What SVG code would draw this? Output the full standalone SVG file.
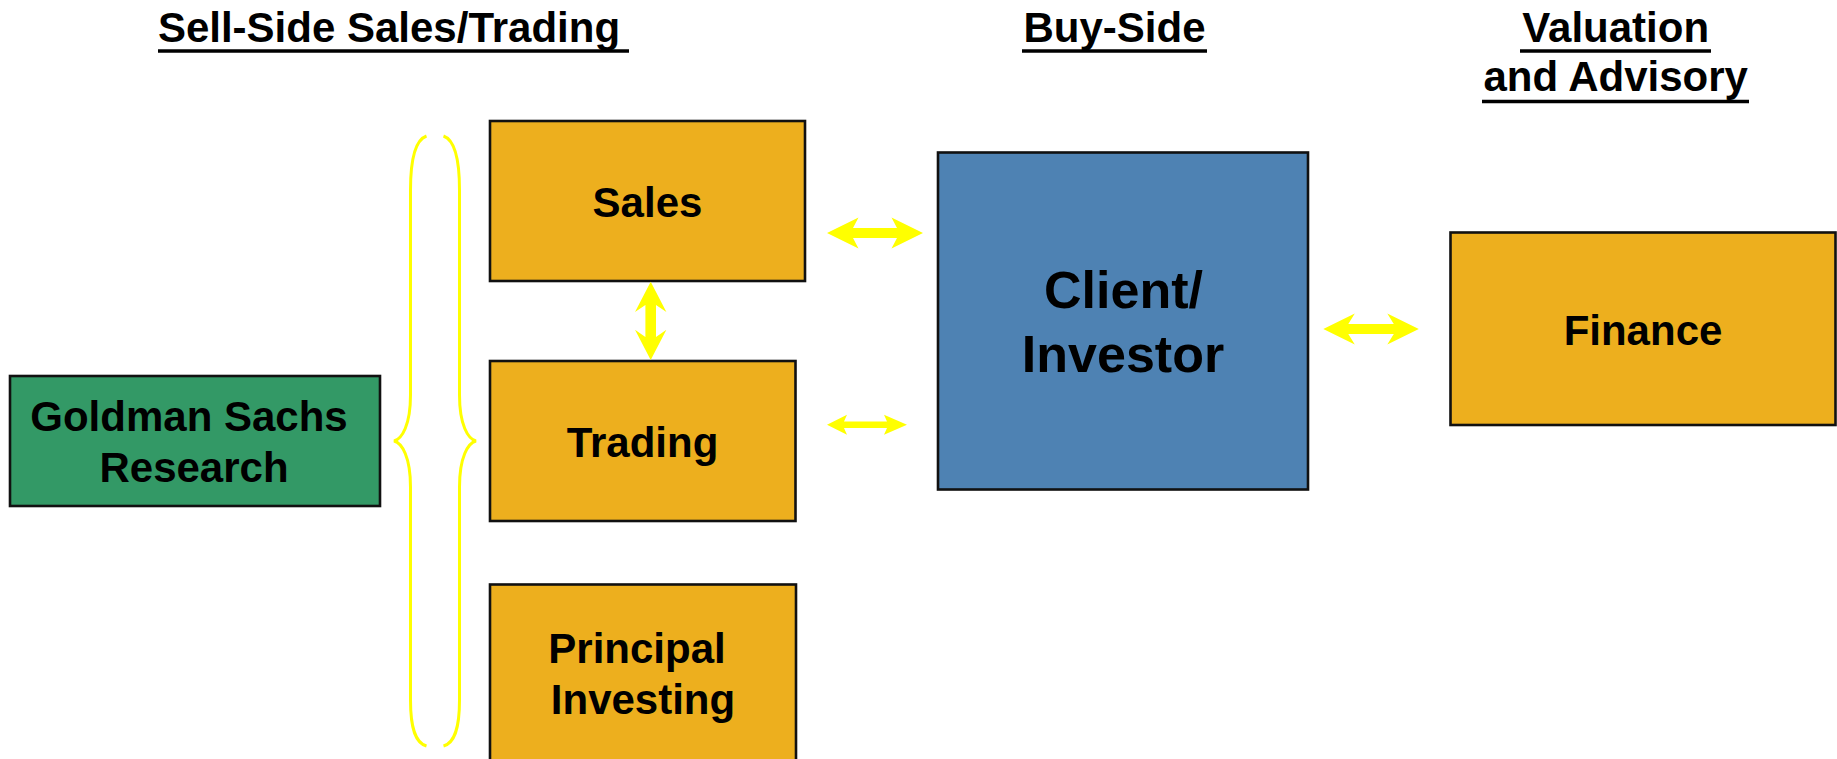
<svg xmlns="http://www.w3.org/2000/svg" width="1837" height="759" viewBox="0 0 1837 759">
  <style>
    text { font-family: "Liberation Sans", Arial, sans-serif; font-weight: bold; fill: #000; }
    .head { font-size: 42px; text-anchor: middle; }
    .lbl { font-size: 42px; text-anchor: middle; }
    .big { font-size: 52px; text-anchor: middle; }
    .uline { stroke: #000; stroke-width: 3.4; }
    .box { stroke: #111; stroke-width: 2.6; }
    .orange { fill: #EDAF1E; }
    .green { fill: #339966; }
    .blue { fill: #4E82B3; }
    .arrow { fill: #FFFF00; stroke: none; }
    .brace { fill: none; stroke: #FFFF00; stroke-width: 3; }
  </style>

  <rect width="1837" height="759" fill="#FFFFFF"/>

  <!-- column headings -->
  <g id="headings">
    <text class="head" x="389" y="42">Sell-Side Sales/Trading</text>
    <line class="uline" x1="158" y1="51" x2="629" y2="51"/>
    <text class="head" x="1114.5" y="42">Buy-Side</text>
    <line class="uline" x1="1022" y1="51" x2="1207" y2="51"/>
    <text class="head" x="1615.7" y="42">Valuation</text>
    <line class="uline" x1="1520" y1="51" x2="1711" y2="51"/>
    <text class="head" x="1615.7" y="91">and Advisory</text>
    <line class="uline" x1="1482" y1="101.5" x2="1749" y2="101.5"/>
  </g>

  <!-- nodes -->
  <g id="research">
    <rect class="box green" x="10" y="376" width="370" height="130"/>
    <text class="lbl" x="189" y="431">Goldman Sachs</text>
    <text class="lbl" x="194" y="482">Research</text>
  </g>

  <g id="sales">
    <rect class="box orange" x="490" y="121" width="315" height="160"/>
    <text class="lbl" x="647.5" y="216.5">Sales</text>
  </g>

  <g id="trading">
    <rect class="box orange" x="490" y="361" width="305.5" height="160"/>
    <text class="lbl" x="642.5" y="456.5">Trading</text>
  </g>

  <g id="principal">
    <rect class="box orange" x="490" y="584.5" width="306" height="200"/>
    <text class="lbl" x="637" y="663">Principal</text>
    <text class="lbl" x="643" y="713.5">Investing</text>
  </g>

  <g id="client">
    <rect class="box blue" x="938" y="152.5" width="370" height="337"/>
    <text class="big" x="1123.5" y="308">Client/</text>
    <text class="big" x="1123" y="372">Investor</text>
  </g>

  <g id="finance">
    <rect class="box orange" x="1450.5" y="232.5" width="385" height="192.5"/>
    <text class="lbl" x="1643" y="345">Finance</text>
  </g>

  <!-- grouping braces around the sell-side desks -->
  <g id="braces">
    <path class="brace" d="M426.5,136 C415,140 410.5,160 410.5,190 L410.5,395 C410.5,425 402,439 394,441 C402,443 410.5,457 410.5,487 L410.5,700 C410.5,730 416,743 426.5,746"/>
    <path class="brace" d="M443.5,136 C455,140 459.5,160 459.5,190 L459.5,395 C459.5,425 468,439 476,441 C468,443 459.5,457 459.5,487 L459.5,700 C459.5,730 454,743 443.5,746"/>
  </g>

  <!-- connectors -->
  <g id="connectors">
    <!-- Sales <-> Client -->
    <polygon class="arrow" points="827,233 858.5,217.5 853,228 897,228 891.5,217.5 923,233 891.5,248.5 897,238 853,238 858.5,248.5"/>
    <!-- Sales <-> Trading -->
    <polygon class="arrow" points="650.7,281.7 666.4,312 656,305 656,337 666.4,329.7 650.7,360 635,329.7 645.4,337 645.4,305 635,312"/>
    <!-- Trading <-> Client -->
    <polygon class="arrow" points="827,424.7 847,414.7 844,421.4 887,421.4 884,414.7 907,424.7 884,434.7 887,428 844,428 847,434.7"/>
    <!-- Client <-> Finance -->
    <polygon class="arrow" points="1323.3,329 1354.8,313.5 1348.3,324 1393.8,324 1387.3,313.5 1418.8,329 1387.3,344.5 1393.8,334 1348.3,334 1354.8,344.5"/>
  </g>
</svg>
